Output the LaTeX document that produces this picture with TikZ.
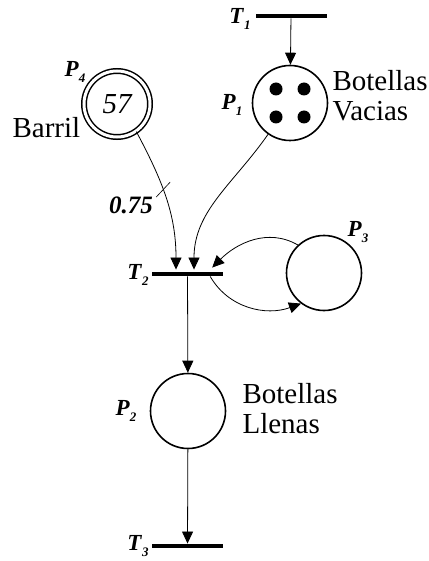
\documentclass[tikz,border=0pt]{standalone}
\usepackage{fontspec}
\setmainfont{Liberation Serif}
\usetikzlibrary{arrows.meta}
\usetikzlibrary{positioning}

% name of a place or transition, with its index set low
\newcommand{\netlbl}[2]{%
  \textbf{\textit{#1}}\raisebox{-5.5pt}{\fontsize{13}{13}\selectfont\textbf{\textit{#2}}}}

\tikzset {
  % places
  place/.style = {
    draw = black,
    circle,
    line width = 1.6pt,
    minimum size = 75pt,
    inner sep = 0
  },
  % place with a capacity, drawn twice
  bigplace/.style = {
    place,
    minimum size = 66pt,
    double = white,
    double distance = 3pt,
    line width = 1.5pt
  },
  token/.style = {
    fill = black,
    circle,
    minimum size = 13pt,
    inner sep = 0
  },
  % transitions are thick bars
  trans/.style = {
    fill = black,
    rectangle,
    minimum width = 71pt,
    minimum height = 4.5pt,
    inner sep = 0
  },
  arc/.style = {
    draw = black,
    line width = 0.8pt,
    -{Triangle[length=12pt,width=11pt]}
  },
  netname/.style = {
    font = \fontsize{23}{23}\selectfont
  },
  txt/.style = {
    font = \fontsize{29}{30}\selectfont,
    align = left,
    anchor = west
  }
}

\begin{document}
\begin{tikzpicture}[x=1pt,y=1pt]
    \useasboundingbox (0,0) rectangle (428,-561);

    \node[trans] (t1) at (291,-16) {};
    \node[place] (p1) at (290,-103) {};
    \node[bigplace] (p4) at (117,-104) {};
    \node[trans] (t2) at (187.5,-274) {};
    \node[place] (p3) at (324,-273) {};
    \node[place] (p2) at (188,-411) {};
    \node[trans] (t3) at (187.5,-546) {};

    \foreach \dx/\dy [count=\i] in {-14/14,14/14,-14/-14,14/-14}
      \node[token] (tk\i) at ([shift={(\dx,\dy)}]p1.center) {};

    \node[font=\fontsize{29}{29}\selectfont\itshape] (cap) at (p4) {57};

    \node[netname] (t1-name) at (240,-19) {\netlbl{T}{1}};
    \node[netname] (p4-name) at (75,-72) {\netlbl{P}{4}};
    \node[netname] (p1-name) at (232,-105) {\netlbl{P}{1}};
    \node[netname] (t2-name) at (138,-275) {\netlbl{T}{2}};
    \node[netname] (p3-name) at (358,-232) {\netlbl{P}{3}};
    \node[netname] (p2-name) at (126,-411) {\netlbl{P}{2}};
    \node[netname] (t3-name) at (138,-546) {\netlbl{T}{3}};

    \node[txt] (barril) at (9,-128) {Barril};
    \node[txt] (vacias) at (329,-96) {Botellas\\Vacias};
    \node[txt] (llenas) at (239,-409) {Botellas\\Llenas};

    \draw[arc] (t1) -- (p1);

    \draw[arc, shorten >=2pt] (p4.-55) to[out=-62, in=90]
      coordinate[pos=0.43] (w) ([xshift=-11.5pt]t2.north);
    \draw[line width=0.6pt] ([shift={(-7,-7)}]w) -- ([shift={(7,8)}]w);
    \node[font=\fontsize{25}{25}\selectfont\bfseries\itshape] (weight) at (131,-205) {0.75};

    \draw[arc, shorten >=2pt] (p1.-125) to[out=-125, in=90]
      ([xshift=6.5pt]t2.north);

    \draw[arc] (p3.133) to[out=150, in=45]
      ([xshift=-11pt,yshift=4pt]t2.north east);
    \draw[arc] ([xshift=-13pt]t2.south east) to[out=-60, in=200] (p3.-127);

    \draw[arc] (t2) -- (p2);
    \draw[arc] (p2) -- (t3);
  \end{tikzpicture}
\end{document}
